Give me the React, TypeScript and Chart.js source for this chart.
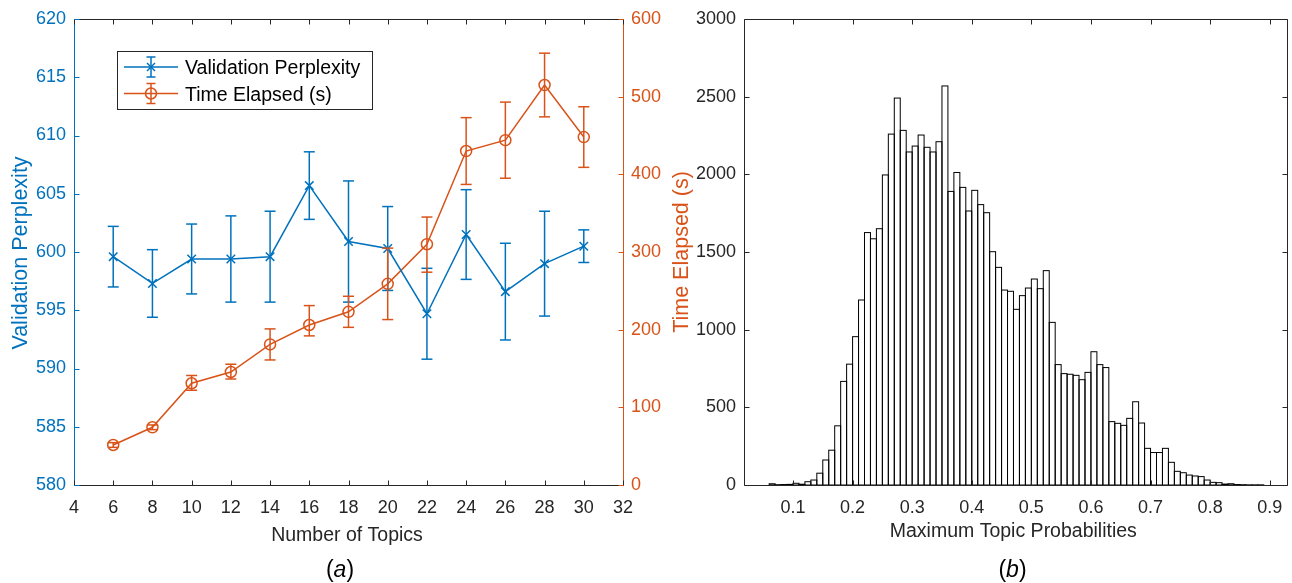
import React, { useEffect, useRef } from "react";
import { Chart, registerables } from "chart.js";

Chart.register(...registerables);

// ---------- Panel (a) data ----------
const topics = [6, 8, 10, 12, 14, 16, 18, 20, 22, 24, 26, 28, 30];
const perplexity = [599.6, 597.3, 599.4, 599.4, 599.6, 605.7, 600.9, 600.3, 594.7, 601.5, 596.6, 599.0, 600.5];
const perplexityErr = [2.6, 2.9, 3.0, 3.7, 3.9, 2.9, 5.2, 3.6, 3.9, 3.85, 4.15, 4.5, 1.4];
const timeElapsed = [51.5, 74.3, 131, 145.5, 181, 206, 223, 259, 310, 430, 444, 515, 448];
const timeErrLow = [3, 3, 9, 9, 20, 14, 20, 46, 36, 43, 49, 41, 39];
const timeErrHigh = [3, 3, 10, 10, 20, 25, 20, 46, 35, 43, 49, 41, 39];

const topicTicks = [4, 6, 8, 10, 12, 14, 16, 18, 20, 22, 24, 26, 28, 30, 32];
const perplexityTicks = [580, 585, 590, 595, 600, 605, 610, 615, 620];
const timeTicks = [0, 100, 200, 300, 400, 500, 600];

// ---------- Panel (b) data ----------
const binWidth = 0.01;
const binStarts = [
  0.02, 0.03, 0.04, 0.05, 0.06, 0.07, 0.08, 0.09,
  0.10, 0.11, 0.12, 0.13, 0.14, 0.15, 0.16, 0.17, 0.18, 0.19,
  0.20, 0.21, 0.22, 0.23, 0.24, 0.25, 0.26, 0.27, 0.28, 0.29,
  0.30, 0.31, 0.32, 0.33, 0.34, 0.35, 0.36, 0.37, 0.38, 0.39,
  0.40, 0.41, 0.42, 0.43, 0.44, 0.45, 0.46, 0.47, 0.48, 0.49,
  0.50, 0.51, 0.52, 0.53, 0.54, 0.55, 0.56, 0.57, 0.58, 0.59,
  0.60, 0.61, 0.62, 0.63, 0.64, 0.65, 0.66, 0.67, 0.68, 0.69,
  0.70, 0.71, 0.72, 0.73, 0.74, 0.75, 0.76, 0.77, 0.78, 0.79,
  0.80, 0.81, 0.82, 0.83, 0.84, 0.85, 0.86, 0.87, 0.88, 0.89,
];
const binCounts = [
  0, 0, 0, 0, 8, 2, 3, 4,
  11, 5, 21, 32, 76, 161, 224, 381, 667, 778,
  955, 1191, 1625, 1585, 1650, 1996, 2259, 2491, 2283, 2144,
  2182, 2253, 2174, 2144, 2210, 2569, 1890, 2012, 1916, 1764,
  1897, 1805, 1753, 1502, 1401, 1255, 1247, 1131, 1219, 1268,
  1326, 1264, 1380, 1047, 775, 717, 713, 706, 678, 725,
  858, 775, 756, 408, 397, 384, 429, 536, 399, 236,
  209, 209, 236, 146, 88, 79, 64, 58, 54, 32,
  17, 15, 6, 8, 3, 2, 1, 1, 1, 0,
];
const probTicks = [0.1, 0.2, 0.3, 0.4, 0.5, 0.6, 0.7, 0.8, 0.9];
const countTicks = [0, 500, 1000, 1500, 2000, 2500, 3000];

// ---------- styles ----------
const FONT = '"Liberation Sans", Arial, Helvetica, sans-serif';
const BLUE = "#0072BD";
const ORANGE = "#D95319";
const AX = "#262626";
const TICK_LEN = 5;

function fixScale(w?: number, h?: number) {
  return (s: any) => {
    if (w !== undefined) s.width = w;
    if (h !== undefined) s.height = h;
    s.paddingTop = 0;
    s.paddingBottom = 0;
    s.paddingLeft = 0;
    s.paddingRight = 0;
  };
}

function setTicks(values: number[]) {
  return (s: any) => {
    s.ticks = values.map((v) => ({ value: v }));
  };
}

function seg(ctx: CanvasRenderingContext2D, x1: number, y1: number, x2: number, y2: number, color: string, lw = 1) {
  ctx.strokeStyle = color;
  ctx.lineWidth = lw;
  ctx.beginPath();
  ctx.moveTo(x1, y1);
  ctx.lineTo(x2, y2);
  ctx.stroke();
}

const snap = (v: number) => Math.round(v) + 0.5;

function drawErrorBars(ctx: CanvasRenderingContext2D, xs: any, ys: any, xv: number[], lo: number[], hi: number[], color: string) {
  const cap = 5.5;
  for (let i = 0; i < xv.length; i++) {
    const px = xs.getPixelForValue(xv[i]);
    const pLo = ys.getPixelForValue(lo[i]);
    const pHi = ys.getPixelForValue(hi[i]);
    seg(ctx, px, pLo, px, pHi, color, 1.5);
    seg(ctx, px - cap, pLo, px + cap, pLo, color, 1.5);
    seg(ctx, px - cap, pHi, px + cap, pHi, color, 1.5);
  }
}

const panelAPlugin = {
  id: "panelA",
  afterDatasetsDraw(chart: any) {
    const { ctx, scales } = chart;
    ctx.save();
    drawErrorBars(
      ctx, scales.x, scales.y, topics,
      perplexity.map((v, i) => v - perplexityErr[i]),
      perplexity.map((v, i) => v + perplexityErr[i]),
      BLUE
    );
    drawErrorBars(
      ctx, scales.x, scales.y1, topics,
      timeElapsed.map((v, i) => v - timeErrLow[i]),
      timeElapsed.map((v, i) => v + timeErrHigh[i]),
      ORANGE
    );
    ctx.restore();
  },
  afterDraw(chart: any) {
    const { ctx, chartArea, scales } = chart;
    const L = snap(chartArea.left);
    const R = snap(chartArea.right);
    const T = snap(chartArea.top);
    const B = snap(chartArea.bottom);
    ctx.save();
    // box
    seg(ctx, L, B, R, B, AX);
    seg(ctx, L, T, R, T, AX);
    seg(ctx, L, T, L, B, BLUE);
    seg(ctx, R, T, R, B, ORANGE);
    // ticks
    topicTicks.forEach((v) => {
      const p = snap(scales.x.getPixelForValue(v));
      seg(ctx, p, B, p, B - TICK_LEN, AX);
      seg(ctx, p, T, p, T + TICK_LEN, AX);
    });
    perplexityTicks.forEach((v) => {
      const p = snap(scales.y.getPixelForValue(v));
      seg(ctx, L, p, L + TICK_LEN, p, BLUE);
    });
    timeTicks.forEach((v) => {
      const p = snap(scales.y1.getPixelForValue(v));
      seg(ctx, R, p, R - TICK_LEN, p, ORANGE);
    });

    // axis titles
    ctx.font = `19.5px ${FONT}`;
    ctx.textAlign = "center";
    ctx.textBaseline = "alphabetic";
    ctx.fillStyle = AX;
    ctx.fillText("Number of Topics", 347, 540.5);

    ctx.font = `21.5px ${FONT}`;
    ctx.save();
    ctx.translate(26.5, 253);
    ctx.rotate(-Math.PI / 2);
    ctx.fillStyle = BLUE;
    ctx.fillText("Validation Perplexity", 0, 0);
    ctx.restore();

    ctx.save();
    ctx.translate(687.5, 252);
    ctx.rotate(-Math.PI / 2);
    ctx.fillStyle = ORANGE;
    ctx.fillText("Time Elapsed (s)", 0, 0);
    ctx.restore();

    // legend
    const lx = 117.5, ly = 51.5, lw = 255, lh = 58;
    ctx.fillStyle = "#fff";
    ctx.fillRect(lx, ly, lw, lh);
    ctx.strokeStyle = AX;
    ctx.lineWidth = 1;
    ctx.strokeRect(lx, ly, lw, lh);
    const rows = [
      { label: "Validation Perplexity", color: BLUE, marker: "x", cy: 67, base: 74 },
      { label: "Time Elapsed (s)", color: ORANGE, marker: "o", cy: 93.5, base: 100.5 },
    ];
    rows.forEach((r) => {
      seg(ctx, 124, r.cy, 178, r.cy, r.color, 1.5);
      seg(ctx, 151, r.cy - 10, 151, r.cy + 10, r.color, 1.5);
      seg(ctx, 146.5, r.cy - 10, 155.5, r.cy - 10, r.color, 1.5);
      seg(ctx, 146.5, r.cy + 10, 155.5, r.cy + 10, r.color, 1.5);
      if (r.marker === "x") {
        seg(ctx, 147, r.cy - 4, 155, r.cy + 4, r.color, 1.5);
        seg(ctx, 147, r.cy + 4, 155, r.cy - 4, r.color, 1.5);
      } else {
        ctx.strokeStyle = r.color;
        ctx.lineWidth = 1.5;
        ctx.beginPath();
        ctx.arc(151, r.cy, 5.5, 0, Math.PI * 2);
        ctx.stroke();
      }
      ctx.fillStyle = "#000";
      ctx.textAlign = "left";
      ctx.font = `19.5px ${FONT}`;
      ctx.fillText(r.label, 185, r.base);
    });

    // caption (a)
    drawCaption(ctx, "a", 340, 577);
    ctx.restore();
  },
};

function drawCaption(ctx: CanvasRenderingContext2D, letter: string, cx: number, baseline: number) {
  const size = 23;
  const normal = `${size}px ${FONT}`;
  const italic = `italic ${size}px ${FONT}`;
  ctx.font = normal;
  const wl = ctx.measureText("(").width;
  const wr = ctx.measureText(")").width;
  ctx.font = italic;
  const wm = ctx.measureText(letter).width;
  const total = wl + wm + wr;
  let x = cx - total / 2;
  ctx.textAlign = "left";
  ctx.textBaseline = "alphabetic";
  ctx.fillStyle = "#000";
  ctx.font = normal;
  ctx.fillText("(", x, baseline);
  x += wl;
  ctx.font = italic;
  ctx.fillText(letter, x, baseline);
  x += wm;
  ctx.font = normal;
  ctx.fillText(")", x, baseline);
}

const panelBPlugin = {
  id: "panelB",
  afterDatasetsDraw(chart: any) {
    const { ctx } = chart;
    const meta = chart.getDatasetMeta(0);
    ctx.save();
    ctx.strokeStyle = "#000";
    ctx.lineWidth = 1;
    meta.data.forEach((bar: any) => {
      const { x, y, base, width } = bar.getProps(["x", "y", "base", "width"], true);
      if (Math.abs(base - y) < 0.01) return;
      ctx.strokeRect(x - width / 2, y, width, base - y);
    });
    ctx.restore();
  },
  afterDraw(chart: any) {
    const { ctx, chartArea, scales } = chart;
    const L = snap(chartArea.left);
    const R = snap(chartArea.right);
    const T = snap(chartArea.top);
    const B = snap(chartArea.bottom);
    ctx.save();
    seg(ctx, L, B, R, B, AX);
    seg(ctx, L, T, R, T, AX);
    seg(ctx, L, T, L, B, AX);
    seg(ctx, R, T, R, B, AX);
    probTicks.forEach((v) => {
      const p = snap(scales.x.getPixelForValue(v));
      seg(ctx, p, B, p, B - TICK_LEN, AX);
      seg(ctx, p, T, p, T + TICK_LEN, AX);
    });
    countTicks.forEach((v) => {
      const p = snap(scales.y.getPixelForValue(v));
      seg(ctx, L, p, L + TICK_LEN, p, AX);
      seg(ctx, R, p, R - TICK_LEN, p, AX);
    });
    ctx.font = `19.5px ${FONT}`;
    ctx.textAlign = "center";
    ctx.textBaseline = "alphabetic";
    ctx.fillStyle = AX;
    ctx.fillText("Maximum Topic Probabilities", 323.3, 537);
    drawCaption(ctx, "b", 322.5, 577);
    ctx.restore();
  },
};

const tickFont = { family: FONT, size: 18 };

function PanelA() {
  const ref = useRef<HTMLCanvasElement>(null);
  useEffect(() => {
    if (!ref.current) return;
    const chart = new Chart(ref.current, {
      type: "line",
      data: {
        datasets: [
          {
            label: "Validation Perplexity",
            data: topics.map((t, i) => ({ x: t, y: perplexity[i] })),
            yAxisID: "y",
            borderColor: BLUE,
            backgroundColor: BLUE,
            borderWidth: 1.5,
            pointStyle: "crossRot",
            pointRadius: 6,
            pointBorderWidth: 1.5,
            pointBorderColor: BLUE,
            tension: 0,
          },
          {
            label: "Time Elapsed (s)",
            data: topics.map((t, i) => ({ x: t, y: timeElapsed[i] })),
            yAxisID: "y1",
            borderColor: ORANGE,
            backgroundColor: "rgba(0,0,0,0)",
            borderWidth: 1.5,
            pointStyle: "circle",
            pointRadius: 5.5,
            pointBorderWidth: 1.5,
            pointBorderColor: ORANGE,
            pointBackgroundColor: "rgba(0,0,0,0)",
            tension: 0,
          },
        ],
      },
      options: {
        animation: false,
        responsive: false,
        maintainAspectRatio: false,
        events: [],
        layout: { padding: { top: 19, left: 0, right: 0, bottom: 0 } },
        plugins: { legend: { display: false }, tooltip: { enabled: false } },
        scales: {
          x: {
            type: "linear",
            min: 4,
            max: 32,
            afterBuildTicks: setTicks(topicTicks),
            afterFit: fixScale(undefined, 98),
            grid: { display: false, drawTicks: false },
            border: { display: false },
            ticks: { font: tickFont, color: AX, padding: 12, maxRotation: 0, autoSkip: false, callback: (v: any) => String(v) },
          },
          y: {
            type: "linear",
            position: "left",
            min: 580,
            max: 620,
            afterBuildTicks: setTicks(perplexityTicks),
            afterFit: fixScale(74, undefined),
            grid: { display: false, drawTicks: false },
            border: { display: false },
            ticks: { font: tickFont, color: BLUE, padding: 8, autoSkip: false, callback: (v: any) => String(v) },
          },
          y1: {
            type: "linear",
            position: "right",
            min: 0,
            max: 600,
            afterBuildTicks: setTicks(timeTicks),
            afterFit: fixScale(77, undefined),
            grid: { display: false, drawTicks: false },
            border: { display: false },
            ticks: { font: tickFont, color: ORANGE, padding: 8, autoSkip: false, callback: (v: any) => String(v) },
          },
        },
      } as any,
      plugins: [panelAPlugin],
    });
    return () => chart.destroy();
  }, []);
  return <canvas ref={ref} width={700} height={583} style={{ position: "absolute", left: 0, top: 0 }} />;
}

function PanelB() {
  const ref = useRef<HTMLCanvasElement>(null);
  useEffect(() => {
    if (!ref.current) return;
    const chart = new Chart(ref.current, {
      type: "bar",
      data: {
        datasets: [
          {
            label: "Maximum Topic Probabilities",
            data: binStarts.map((s, i) => ({ x: s + binWidth / 2, y: binCounts[i] })),
            backgroundColor: "#ffffff",
            borderWidth: 0,
            barPercentage: 1,
            categoryPercentage: 1,
            grouped: false,
          },
        ],
      },
      options: {
        animation: false,
        responsive: false,
        maintainAspectRatio: false,
        events: [],
        layout: { padding: { top: 19, left: 0, right: 5, bottom: 0 } },
        plugins: { legend: { display: false }, tooltip: { enabled: false } },
        scales: {
          x: {
            type: "linear",
            min: 0.0178,
            max: 0.929,
            offset: false,
            afterBuildTicks: setTicks(probTicks),
            afterFit: fixScale(undefined, 98),
            grid: { display: false, drawTicks: false },
            border: { display: false },
            ticks: { font: tickFont, color: AX, padding: 12, maxRotation: 0, autoSkip: false, callback: (v: any) => Number(v).toFixed(1) },
          },
          y: {
            type: "linear",
            min: 0,
            max: 3000,
            afterBuildTicks: setTicks(countTicks),
            afterFit: fixScale(54, undefined),
            grid: { display: false, drawTicks: false },
            border: { display: false },
            ticks: { font: tickFont, color: AX, padding: 8, autoSkip: false, callback: (v: any) => String(v) },
          },
        },
      } as any,
      plugins: [panelBPlugin],
    });
    return () => chart.destroy();
  }, []);
  return <canvas ref={ref} width={602} height={583} style={{ position: "absolute", left: 690, top: 0 }} />;
}

export default function App() {
  return (
    <div style={{ position: "fixed", left: 0, top: 0, width: 1292, height: 583, background: "#fff", overflow: "hidden" }}>
      <PanelA />
      <PanelB />
    </div>
  );
}
